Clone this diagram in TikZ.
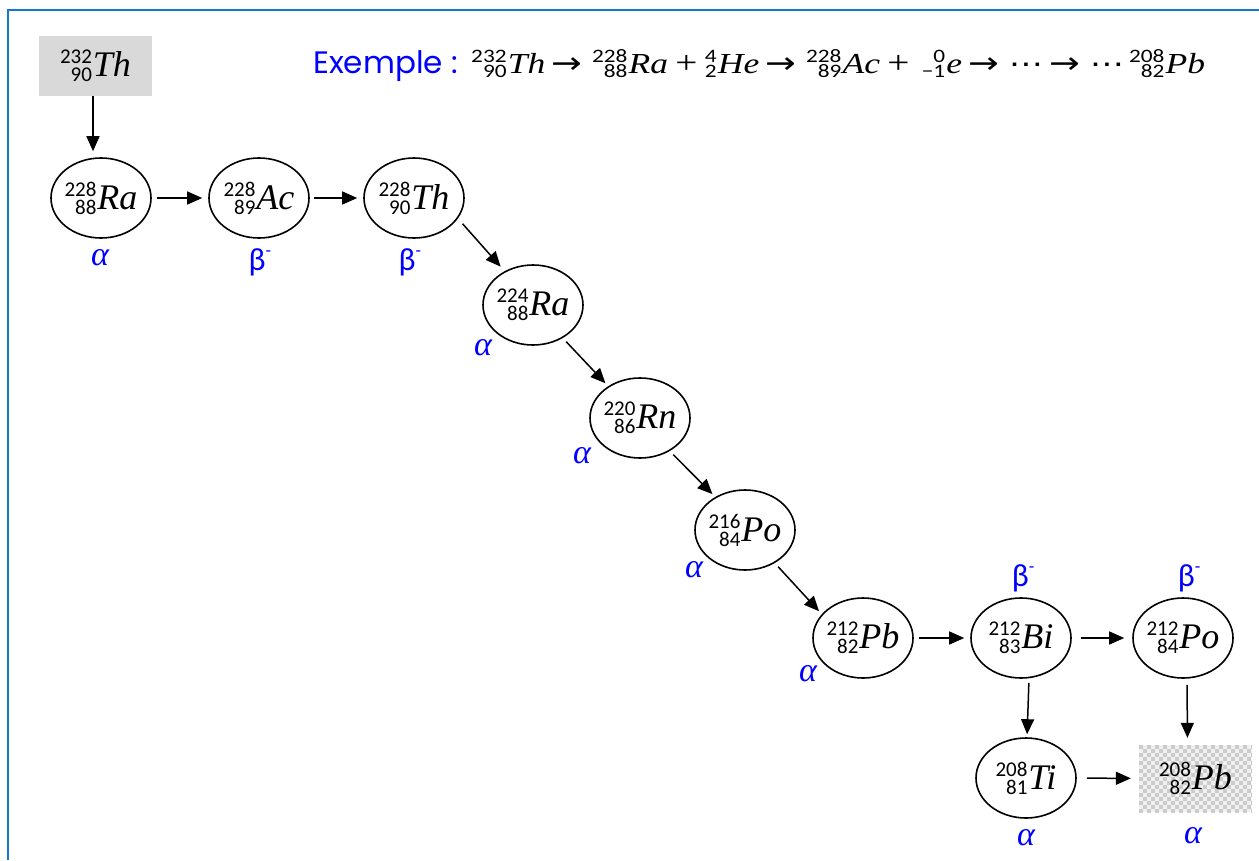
\documentclass[tikz,border=0pt]{standalone}
\usepackage{fontspec}
\setmainfont{Liberation Serif}
\newfontfamily\digitfont{Carlito}
\newfontfamily\titlefont{Poppins}
\newfontfamily\symfont{DejaVu Sans}
\usetikzlibrary{shapes.geometric,arrows.meta}
\definecolor{frameblue}{RGB}{20,120,210}
\definecolor{lblblue}{RGB}{0,0,255}
\definecolor{boxgray}{RGB}{217,217,217}
\newdimen\nucup \newdimen\nucdown \newdimen\nucw
\nucup=13pt \nucdown=5pt
\newcommand{\nucmain}{\fontsize{36}{36}\selectfont}
\newcommand{\nucsub}{\digitfont\fontsize{21}{21}\selectfont}
\newcommand{\nucl}[3]{%
  \setbox0=\hbox{\nucsub #1}\setbox2=\hbox{\nucsub #2}%
  \ifdim\wd0>\wd2 \nucw=\wd0 \else \nucw=\wd2 \fi
  \raise\nucup\hbox to\nucw{\hfil\box0}\kern-\nucw
  \lower\nucdown\hbox to\nucw{\hfil\box2}%
  \kern1pt{\nucmain\itshape #3}}
\newcommand{\eqarr}{\hspace{5pt}{\symfont\fontsize{30}{30}\selectfont →}\hspace{8pt}}
\newcommand{\eqplus}{\hspace{6pt}{\fontsize{32}{32}\selectfont +}\hspace{6pt}}
\newcommand{\eqdots}{{\symfont\fontsize{28}{28}\selectfont ⋯}}
\newcommand{\alphalbl}{{\fontsize{34}{34}\selectfont\itshape α}}
\newcommand{\betalbl}{{\digitfont\fontsize{32}{32}\selectfont β\raise 14pt\hbox{\fontsize{18}{18}\selectfont -}}}
\begin{document}
\begin{tikzpicture}[x=1pt,y=-1pt,
  nucnode/.style={ellipse, draw, line width=1.6pt, minimum width=100pt, minimum height=80pt, inner sep=0pt},
  arr/.style={line width=1.5pt, -{Triangle[length=15pt,width=13pt]}},
  decay/.style={text=lblblue, inner sep=0pt}]
\useasboundingbox (0,0) rectangle (1259,860);
% frame
\draw[frameblue, line width=2.5pt] (8,860) -- (8,10) -- (1259,10);
% title and equation
\node[anchor=base west, inner sep=0pt, text=blue] (title) at (313,73) {\titlefont\fontsize{31}{31}\selectfont Exemple :};
\node[anchor=base west, inner sep=0pt] (eq) at (471,73) {\resizebox{734pt}{\height}{%
  \nucup=11pt \nucdown=4pt
  \renewcommand{\nucmain}{\fontsize{29}{29}\selectfont}\renewcommand{\nucsub}{\digitfont\fontsize{19}{19}\selectfont}%
  \nucl{232}{90}{Th}\eqarr\nucl{228}{88}{Ra}\eqplus\nucl{4}{2}{He}\eqarr\nucl{228}{89}{Ac}\eqplus\hspace{4pt}\nucl{0}{−1}{e}\eqarr\eqdots\eqarr\eqdots\hspace{4pt}\nucl{208}{82}{Pb}}};
% start box
\node[fill=boxgray, minimum width=113pt, minimum height=60pt, inner sep=0pt] (th232) at (95.5,66) {\makebox[0pt]{\nucl{232}{90}{Th}}};
% end box with dotted texture
\begin{scope}
\clip (1139,745) rectangle (1252,812);
\fill[gray!12] (1139,745) rectangle (1252,812);
\foreach \x in {1139,1147,...,1252} \foreach \y in {745,753,...,812} {
  \fill[gray!40] (\x,\y) rectangle ++(4,4);
  \fill[gray!40] (\x+4,\y+4) rectangle ++(4,4);
}
\end{scope}
\node[minimum width=113pt, minimum height=67pt, inner sep=0pt] (pb208) at (1195.5,778.5) {\makebox[0pt]{\nucl{208}{82}{Pb}}};
% nuclide ellipses
\node[nucnode] (ra228) at (101,198) {\makebox[0pt]{\nucl{228}{88}{Ra}}};
\node[nucnode] (ac228) at (259,198) {\makebox[0pt]{\nucl{228}{89}{Ac}}};
\node[nucnode] (th228) at (414,198) {\makebox[0pt]{\nucl{228}{90}{Th}}};
\node[nucnode] (ra224) at (533,305) {\makebox[0pt]{\nucl{224}{88}{Ra}}};
\node[nucnode] (rn220) at (640,418) {\makebox[0pt]{\nucl{220}{86}{Rn}}};
\node[nucnode] (po216) at (745,530) {\makebox[0pt]{\nucl{216}{84}{Po}}};
\node[nucnode] (pb212) at (863,638) {\makebox[0pt]{\nucl{212}{82}{Pb}}};
\node[nucnode] (bi212) at (1021,638) {\makebox[0pt]{\nucl{212}{83}{Bi}}};
\node[nucnode] (po212) at (1183,638) {\makebox[0pt]{\nucl{212}{84}{Po}}};
\node[nucnode] (ti208) at (1026,778) {\makebox[0pt]{\nucl{208}{81}{Ti}}};
% decay labels
\node[decay] (l1) at (100,258) {\alphalbl};
\node[decay] (l2) at (260,262) {\betalbl};
\node[decay] (l3) at (410,262) {\betalbl};
\node[decay] (l4) at (483,348) {\alphalbl};
\node[decay] (l5) at (582,456) {\alphalbl};
\node[decay] (l6) at (694,570) {\alphalbl};
\node[decay] (l7) at (808,674) {\alphalbl};
\node[decay] (l8) at (1023,578) {\betalbl};
\node[decay] (l9) at (1189,578) {\betalbl};
\node[decay] (l10) at (1026,838) {\alphalbl};
\node[decay] (l11) at (1193,836) {\alphalbl};
% connectors
\draw[arr, shorten >=6pt] ([xshift=-2.5pt]th232.south) -- ([xshift=-8pt]ra228.north);
\draw[arr, shorten <=5pt, shorten >=6pt] (ra228) -- (ac228);
\draw[arr, shorten <=4pt, shorten >=6pt] (ac228) -- (th228);
\draw[arr, shorten <=7pt, shorten >=6pt] (th228.-25) -- (ra224.130);
\draw[arr, shorten <=5pt, shorten >=4pt] (ra224.-48) -- (rn220.135);
\draw[arr, shorten <=5pt, shorten >=4pt] (rn220.-48) -- (po216.132);
\draw[arr, shorten <=5pt, shorten >=4pt] (po216.-48) -- (pb212.150);
\draw[arr, shorten <=5pt, shorten >=6pt] (pb212) -- (bi212);
\draw[arr, shorten <=9pt, shorten >=8pt] (bi212) -- (po212);
\draw[arr, shorten <=4pt, shorten >=3pt] ([xshift=8pt]bi212.south) -- ([xshift=1pt]ti208.north);
\draw[arr, shorten <=6pt, shorten >=7pt] ([xshift=4pt]po212.south) -- ([xshift=-8pt]pb208.north);
\draw[arr, shorten <=10pt, shorten >=8pt] (ti208) -- (pb208);
\end{tikzpicture}
\end{document}
